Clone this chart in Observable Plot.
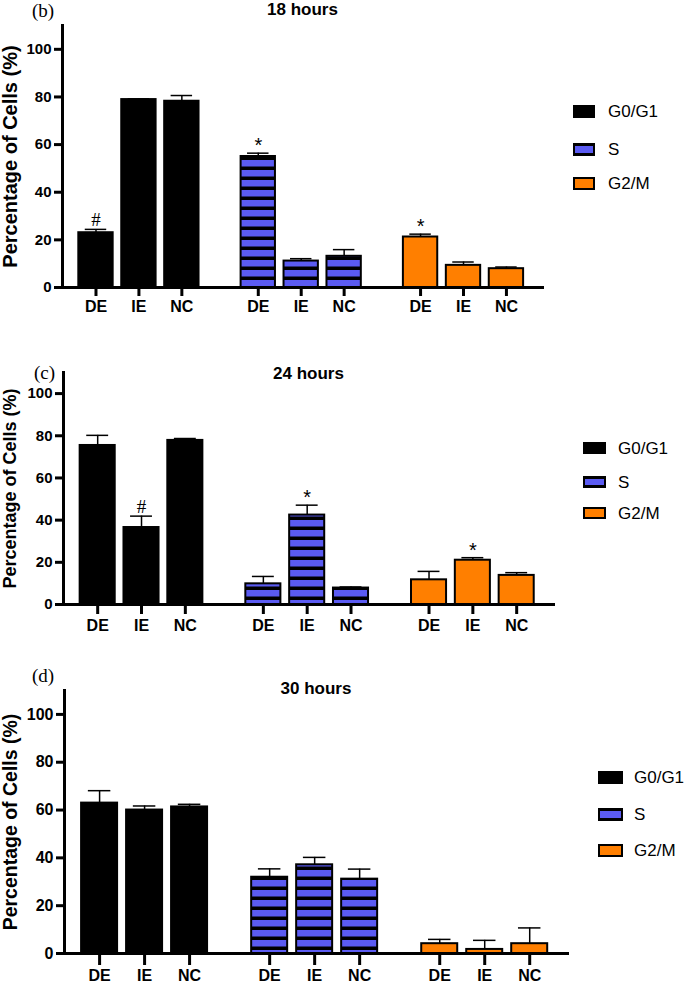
<!DOCTYPE html>
<html>
<head>
<meta charset="utf-8">
<script src="https://cdn.jsdelivr.net/npm/d3@7"></script>
<script src="https://cdn.jsdelivr.net/npm/@observablehq/plot@0.6"></script>
<style>
  body { margin: 0; background: #fff; font-family: "Liberation Sans", Arial, sans-serif; }
  .panel { position: relative; width: 685px; overflow: hidden; }
  .panel svg.plot { display: block; }
  .tag { position: absolute; font-family: "Liberation Serif", "Times New Roman", serif; line-height: 1; }
  .sw { position: absolute; box-sizing: border-box; }
  .lg-text { position: absolute; line-height: 1; white-space: nowrap; color: #000; }
</style>
</head>
<body>
<svg width="0" height="0" style="position:absolute">
  <defs>
    <pattern id="stripes" patternUnits="userSpaceOnUse" width="10" height="10">
      <rect width="10" height="10" fill="#5b5bf2"></rect>
      <rect y="6.5" width="10" height="3.5" fill="#000"></rect>
    </pattern>
  </defs>
</svg>
<div id="chart"></div>
<script>
// ---------- data ----------
const phases = ["G0/G1", "S", "G2/M"];
const treatments = ["DE", "IE", "NC"];
const panelTitles = ["18 hours", "24 hours", "30 hours"];
const panelTags = ["(b)", "(c)", "(d)"];
const yTicks = [0, 20, 40, 60, 80, 100];
const yLabel = "Percentage of Cells (%)";

// mean % per phase (rows) x treatment (cols)
const means18 = [[23.0, 78.9, 78.2], [55.0, 11.1, 13.1], [21.2, 9.3, 7.9]];
const errs18  = [[1.4, 0.3, 2.4],    [1.4, 1.0, 2.8],    [1.2, 1.4, 0.7]];
const notes18 = [["#", "", ""],      ["*", "", ""],      ["*", "", ""]];

const means24 = [[75.4, 36.5, 77.8], [9.8, 42.4, 7.8],   [11.7, 21.0, 13.8]];
const errs24  = [[4.8, 5.4, 0.9],    [3.5, 4.7, 0.5],    [4.0, 1.2, 1.3]];
const notes24 = [["", "#", ""],      ["", "*", ""],      ["", "*", ""]];

const means30 = [[62.9, 60.0, 61.3], [31.9, 37.1, 31.1], [4.1, 1.7, 4.1]];
const errs30  = [[5.2, 1.7, 1.1],    [3.5, 3.1, 4.2],    [1.8, 3.8, 6.6]];
const notes30 = [["", "", ""],       ["", "", ""],       ["", "", ""]];

const panelMeans = [means18, means24, means30];
const panelErrs = [errs18, errs24, errs30];
const panelNotes = [notes18, notes24, notes30];

// ---------- styles / layout ----------
const phaseFill = {"G0/G1": "#000000", "S": "url(#stripes)", "G2/M": "#ff7f00"};
const GROUP_STEP = 3.78;
const layout = [
  {height: 320, mt: 25, mb: 33, ml: 62, mr: 143, titleDy: -16, ylabDx: -52, ylabSize: 20,
   xTick: 9, xPad: 4, yFont: 15,
   tag: {left: 32, top: 1, size: 19},
   legend: {sw: 573, tx: 608, rows: [111, 149, 183], w: 22, h: 13, size: 17}},
  {height: 330, mt: 52, mb: 46, ml: 63, mr: 132, titleDy: 1, ylabDx: -53, ylabSize: 18,
   xTick: 10, xPad: 5, yFont: 15,
   tag: {left: 34, top: 43, size: 19},
   legend: {sw: 583, tx: 618, rows: [128, 162, 193], w: 23, h: 12, size: 17}},
  {height: 336, mt: 40, mb: 33, ml: 64, mr: 118, titleDy: -2, ylabDx: -54, ylabSize: 19.5,
   xTick: 12, xPad: 4, yFont: 16,
   tag: {left: 32, top: 16, size: 19},
   legend: {sw: 598, tx: 634, rows: [127, 164, 200], w: 25, h: 13, size: 17}}
];

const chart = document.getElementById("chart");

panelTitles.forEach((title, p) => {
  const L = layout[p];
  const data = [];
  phases.forEach((ph, gi) => treatments.forEach((t, ti) => {
    data.push({
      phase: ph, treatment: t, pos: gi * GROUP_STEP + ti,
      value: panelMeans[p][gi][ti], err: panelErrs[p][gi][ti], note: panelNotes[p][gi][ti]
    });
  }));
  const labelOf = new Map(data.map(d => [d.pos, d.treatment]));

  const svg = Plot.plot({
    width: 685, height: L.height,
    marginLeft: L.ml, marginRight: L.mr, marginTop: L.mt, marginBottom: L.mb,
    style: {fontFamily: "'Liberation Sans', Arial, sans-serif", background: "transparent", color: "#000"},
    x: {domain: [-0.78, 10.4]},
    y: {domain: [0, 110]},
    marks: [
      Plot.ruleX(data, {x: "pos", y1: "value", y2: d => d.value + d.err, stroke: "#000", strokeWidth: 1.5}),
      Plot.ruleY(data, {y: d => d.value + d.err, x1: d => d.pos - 0.25, x2: d => d.pos + 0.25, stroke: "#000", strokeWidth: 1.5}),
      Plot.rectY(data, {x1: d => d.pos - 0.4, x2: d => d.pos + 0.4, y1: 0, y2: "value",
        fill: d => phaseFill[d.phase], stroke: "#000", strokeWidth: 2}),
      Plot.text(data.filter(d => d.note === "#"), {x: "pos", y: d => d.value + d.err, text: "note",
        lineAnchor: "bottom", dy: -3, fontSize: 19, fontFamily: "'Liberation Serif', 'Times New Roman', serif"}),
      Plot.text(data.filter(d => d.note === "*"), {x: "pos", y: d => d.value + d.err, text: "note",
        lineAnchor: "bottom", dy: -1, fontSize: 20}),
      Plot.axisY({ticks: yTicks, tickSize: 8, tickPadding: 3, strokeWidth: 3, fontSize: L.yFont,
        fontWeight: "bold", label: null}),
      Plot.axisX({ticks: data.map(d => d.pos), tickFormat: d => labelOf.get(d), tickSize: L.xTick,
        tickPadding: L.xPad, strokeWidth: 3, fontSize: 16, fontWeight: "bold", label: null}),
      Plot.frame({anchor: "left", strokeWidth: 3}),
      Plot.frame({anchor: "bottom", strokeWidth: 3}),
      Plot.text([title], {frameAnchor: "top", lineAnchor: "middle", dy: L.titleDy, fontSize: 17, fontWeight: "bold"}),
      Plot.text([yLabel], {frameAnchor: "left", textAnchor: "middle", lineAnchor: "middle", rotate: -90,
        dx: L.ylabDx, fontSize: L.ylabSize, fontWeight: "bold"})
    ]
  });
  svg.classList.add("plot");

  const div = document.createElement("div");
  div.className = "panel";
  div.style.height = L.height + "px";
  div.appendChild(svg);

  const tag = document.createElement("div");
  tag.className = "tag";
  tag.textContent = panelTags[p];
  tag.style.left = L.tag.left + "px";
  tag.style.top = L.tag.top + "px";
  tag.style.fontSize = L.tag.size + "px";
  div.appendChild(tag);

  const lg = L.legend;
  phases.forEach((ph, k) => {
    const cy = lg.rows[k];
    const sw = document.createElement("div");
    sw.className = "sw";
    sw.style.left = lg.sw + "px";
    sw.style.top = (cy - lg.h / 2) + "px";
    sw.style.width = lg.w + "px";
    sw.style.height = lg.h + "px";
    if (ph === "G0/G1") { sw.style.background = "#000"; }
    else if (ph === "S") { sw.style.background = "#5b5bf2"; sw.style.border = "solid #000"; sw.style.borderWidth = "3.5px 2px"; }
    else { sw.style.background = "#ff7f00"; sw.style.border = "2px solid #000"; }
    div.appendChild(sw);
    const tx = document.createElement("div");
    tx.className = "lg-text";
    tx.textContent = ph;
    tx.style.left = lg.tx + "px";
    tx.style.top = (cy - lg.size * 0.5) + "px";
    tx.style.fontSize = lg.size + "px";
    div.appendChild(tx);
  });

  chart.appendChild(div);
});
</script>
</body>
</html>
